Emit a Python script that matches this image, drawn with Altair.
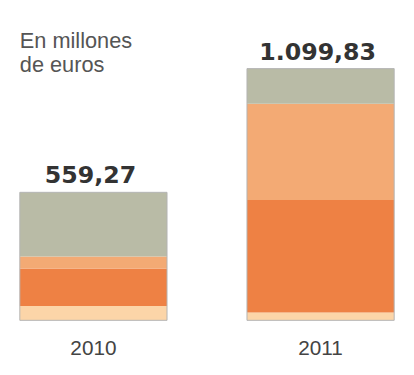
import altair as alt
import pandas as pd

# Data
years = ["2010", "2011"]
totals = [559.27, 1099.83]
total_labels = ["559,27", "1.099,83"]
segments = ["Segmento 1", "Segmento 2", "Segmento 3", "Segmento 4"]  # bottom -> top
values_2010 = [63.00, 163.00, 52.80, 280.47]
values_2011 = [34.00, 491.90, 420.00, 153.93]
colors = ["#FCD5A8", "#EE8144", "#F3AA74", "#B9BBA6"]

rows = []
for yr, vals in zip(years, [values_2010, values_2011]):
    for i, (seg, v) in enumerate(zip(segments, vals)):
        rows.append({"año": yr, "segmento": seg, "orden": i, "valor": v})
df = pd.DataFrame(rows)
df_tot = pd.DataFrame({"año": years, "total": totals, "etiqueta": total_labels})

xscale = alt.Scale(paddingInner=0.352, paddingOuter=0.052)
yscale = alt.Scale(domain=[0, 1260])
xaxis = alt.Axis(title=None, labelAngle=0, ticks=False, domain=False,
                 labelFont="Liberation Sans", labelFontSize=21,
                 labelColor="#444444", labelPadding=18)

bars = alt.Chart(df).mark_bar().encode(
    x=alt.X("año:N", scale=xscale, axis=xaxis),
    y=alt.Y("valor:Q", stack="zero", scale=yscale, axis=None),
    color=alt.Color("segmento:N", scale=alt.Scale(domain=segments, range=colors), legend=None),
    order=alt.Order("orden:Q", sort="ascending"),
)

outline = alt.Chart(df_tot).mark_bar(fillOpacity=0, stroke="#B4B4B4", strokeWidth=1).encode(
    x=alt.X("año:N", scale=xscale, axis=xaxis),
    y=alt.Y("total:Q", scale=yscale, axis=None),
)

labels = alt.Chart(df_tot).mark_text(
    font="DejaVu Sans", fontWeight="bold", fontSize=24, color="#333333",
    baseline="alphabetic", dy=-9, dx=-3,
).encode(
    x=alt.X("año:N", scale=xscale, axis=xaxis),
    y=alt.Y("total:Q", scale=yscale, axis=None),
    text="etiqueta:N",
)

chart = alt.layer(bars, outline, labels).properties(
    width=403, height=292,
    autosize="none",
    padding={"left": 0, "top": 22, "right": 0, "bottom": 45},
    title=alt.TitleParams(
        text=["En millones", "de euros"], anchor="start", frame="group",
        font="Liberation Sans", fontSize=22, fontWeight="normal",
        color="#555555", lineHeight=25, dx=12, dy=46, offset=0,
    ),
).configure_view(stroke=None)

chart.save("out.html", embed_options={"renderer": "svg", "actions": False})
